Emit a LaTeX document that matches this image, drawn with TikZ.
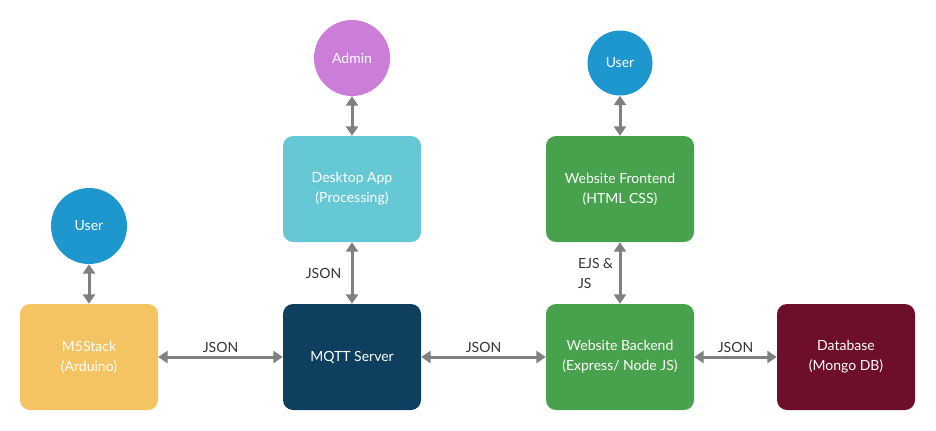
\documentclass[tikz,border=0pt]{standalone}
\usepackage{fontspec}
\setmainfont{Lato}
\usetikzlibrary{arrows.meta}
\definecolor{cYellow}{HTML}{F5C462}
\definecolor{cNavy}{HTML}{0E3F5E}
\definecolor{cGreen}{HTML}{48A14D}
\definecolor{cMaroon}{HTML}{6D0F2B}
\definecolor{cCyan}{HTML}{67C8D5}
\definecolor{cBlue}{HTML}{1E96CE}
\definecolor{cPurple}{HTML}{CB7ED8}
\definecolor{cArrow}{HTML}{808080}
\definecolor{cLabel}{HTML}{333333}
\tikzset{
  box/.style={rectangle, rounded corners=7.5pt, minimum width=103.5pt, minimum height=79.5pt,
    inner sep=0pt, text=white, align=center, font=\fontsize{10.5}{15}\selectfont},
  widebox/.style={box, minimum width=111pt},
  actor/.style={circle, minimum size=57pt, inner sep=0pt, text=white, font=\fontsize{10.5}{15}\selectfont},
  link/.style={cArrow, line width=2.25pt, {Triangle[length=7pt,width=9pt]}-{Triangle[length=7pt,width=9pt]}},
  lbl/.style={text=cLabel, font=\fontsize{10.5}{15}\selectfont}
}
\begin{document}
\begin{tikzpicture}[x=0.75pt,y=-0.75pt]
  \useasboundingbox (0,0) rectangle (936,430);
  \draw
    (89,357) node[box, fill=cYellow] (m5) {M5Stack\\(Arduino)}
    (352,357) node[box, fill=cNavy] (mqtt) {MQTT Server}
    (620,357) node[widebox, fill=cGreen] (back) {Website Backend\\(Express/ Node JS)}
    (846,357) node[box, fill=cMaroon] (db) {Database\\(Mongo DB)}
    (352,189) node[box, fill=cCyan] (desk) {Desktop App\\(Processing)}
    (620,189) node[widebox, fill=cGreen] (front) {Website Frontend\\(HTML CSS)}
    (89,226) node[actor, fill=cBlue] (user1) {User}
    (352,58) node[actor, fill=cPurple] (admin) {Admin}
    (620,63) node[actor, fill=cBlue, minimum size=48.75pt] (user2) {User};
  \begin{scope}[link]
    \draw (m5) to node[lbl, above, inner sep=2pt] {JSON} (mqtt);
    \draw (mqtt) to node[lbl, above, inner sep=2pt] {JSON} (back);
    \draw (back) to node[lbl, above, inner sep=2pt] {JSON} (db);
    \draw (desk) to node[lbl, left, inner sep=7pt] {JSON} (mqtt);
    \draw (front) to node[lbl, left, align=left, inner sep=4pt] {EJS \&\\JS} (back);
    \draw (user1) to (m5);
    \draw (admin) to (desk);
    \draw (user2) to (front);
  \end{scope}
\end{tikzpicture}
\end{document}
